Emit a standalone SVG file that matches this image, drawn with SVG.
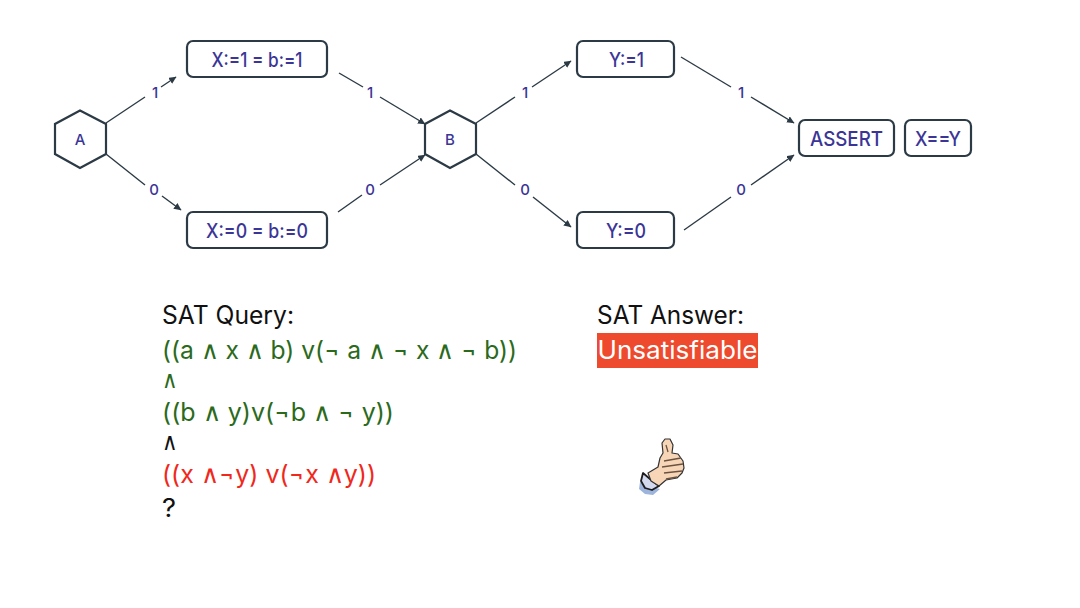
<svg xmlns="http://www.w3.org/2000/svg" width="1080" height="608" viewBox="0 0 1080 608">
<style>
text{font-family:"Inter","Liberation Sans",sans-serif}
.n{fill:#fff;stroke:#2b3a45;stroke-width:2.200}
.l{fill:#3a3596;font-size:20px;text-anchor:middle;font-weight:500}
.s{fill:#3a3596;font-size:15px;text-anchor:middle;font-weight:500}
.e{fill:#3a3596;font-size:15px;text-anchor:middle;font-weight:500}
.c{fill:none;stroke:#2b3a45;stroke-width:1.400;marker-end:url(#a)}
.p{fill:none;stroke:#2b3a45;stroke-width:1.400}
.t{font-size:25px}
.o{font-size:24px}
.g{fill:#2b6a1c}.k{fill:#111}.r{fill:#f0281c}
</style>
<defs><marker id="a" markerWidth="8" markerHeight="8" refX="7" refY="3.500" orient="auto" markerUnits="userSpaceOnUse"><path d="M0 0L7.500 3.500L0 7z" fill="#2b3a45"/></marker></defs>
<rect width="1080" height="608" fill="#fff"/>
<g id="connectors">
<path class="p" d="M106 123L145 97"/><path class="c" d="M161 87L176 77"/>
<path class="p" d="M106 154L145 185"/><path class="c" d="M162 196L181 210"/>
<path class="p" d="M339 73L363 87"/><path class="c" d="M380 97L425 124"/>
<path class="p" d="M338 212L362 195"/><path class="c" d="M380 185L425 155"/>
<path class="p" d="M476 123L515 97"/><path class="c" d="M532 87L571 61"/>
<path class="p" d="M476 154L515 185"/><path class="c" d="M533 197L571 227"/>
<path class="p" d="M681 57L731 87"/><path class="c" d="M751 97L794 123"/>
<path class="p" d="M684 230L731 197"/><path class="c" d="M751 185L794 155"/>
<text class="e" x="155" y="98">1</text><text class="e" x="154" y="195">0</text>
<text class="e" x="370" y="98">1</text><text class="e" x="370" y="195">0</text>
<text class="e" x="525" y="98">1</text><text class="e" x="525" y="195">0</text>
<text class="e" x="741" y="98">1</text><text class="e" x="741" y="195">0</text>
</g>
<g id="node-a"><path class="n" d="M80 110.500L106 124V154L80 168L55 154V124Z"/><text class="s" x="80" y="145">A</text></g>
<g id="node-b"><path class="n" d="M450 110.500L476 124V154L450 168L425 154V124Z"/><text class="s" x="450" y="145">B</text></g>
<g id="node-x1"><rect class="n" x="187" y="41" width="140" height="36" rx="6"/><text class="l" x="257" y="66.500" textLength="91" lengthAdjust="spacingAndGlyphs">X:=1 = b:=1</text></g>
<g id="node-x0"><rect class="n" x="187" y="212" width="140" height="36" rx="6"/><text class="l" x="257" y="237.500" textLength="102" lengthAdjust="spacingAndGlyphs">X:=0 = b:=0</text></g>
<g id="node-y1"><rect class="n" x="577" y="41" width="97" height="36" rx="6"/><text class="l" x="626.500" y="66.500" textLength="35" lengthAdjust="spacingAndGlyphs">Y:=1</text></g>
<g id="node-y0"><rect class="n" x="577" y="212" width="97" height="36" rx="6"/><text class="l" x="626" y="237.500" textLength="40" lengthAdjust="spacingAndGlyphs">Y:=0</text></g>
<g id="node-assert"><rect class="n" x="799" y="120" width="95" height="36" rx="6"/><text class="l" x="846.500" y="145.500" textLength="73" lengthAdjust="spacingAndGlyphs">ASSERT</text></g>
<g id="node-xy"><rect class="n" x="905" y="120" width="66" height="36" rx="6"/><text class="l" x="938" y="145.500" textLength="46" lengthAdjust="spacingAndGlyphs">X==Y</text></g>
<g id="query">
<text class="t k" x="162" y="324" textLength="132" lengthAdjust="spacingAndGlyphs">SAT Query:</text>
<text class="t g" x="162" y="359" textLength="355" lengthAdjust="spacingAndGlyphs">((a ∧ x ∧ b) v(¬ a ∧ ¬ x ∧ ¬ b))</text>
<text class="o g" x="162" y="388" textLength="16" lengthAdjust="spacingAndGlyphs">∧</text>
<text class="t g" x="162" y="421" textLength="232" lengthAdjust="spacingAndGlyphs">((b ∧ y)v(¬b ∧ ¬ y))</text>
<text class="o k" x="162" y="450" textLength="16" lengthAdjust="spacingAndGlyphs">∧</text>
<text class="t r" x="162" y="483" textLength="214" lengthAdjust="spacingAndGlyphs">((x ∧¬y) v(¬x ∧y))</text>
<text class="t k" x="162" y="517" textLength="14" lengthAdjust="spacingAndGlyphs">?</text>
</g>
<g id="answer">
<text class="t k" x="597" y="324" textLength="147" lengthAdjust="spacingAndGlyphs">SAT Answer:</text>
<rect x="597" y="333" width="161" height="35" fill="#ee4a2e"/>
<text class="t" fill="#fff" x="597.500" y="359" textLength="160" lengthAdjust="spacingAndGlyphs">Unsatisfiable</text>
</g>
<g id="thumb" stroke-linejoin="round">
<path d="M640 482L639 489L645 494L653 495L660 489L650 486Z" fill="#9db4dc"/>
<path d="M643 473L641 481L645 488L652 490L659 486L650 479Z" fill="#d3d9ee" stroke="#1c1c1c" stroke-width="1.800"/>
<path d="M648 473L658 467L660 458L663 453L662 443L665 439L670 439L673 445L672 453L678 454L683 461L684 468L682 473L677 478L666 480L659 486L651 481Z" fill="#f7d6b8" stroke="#333" stroke-width="1.200"/>
<path d="M664 461L681 458M662 467L683 464M664 473L682 471M666 479L677 477M666 445L668 452" fill="none" stroke="#6b5240" stroke-width="1.300"/>
</g>
</svg>
